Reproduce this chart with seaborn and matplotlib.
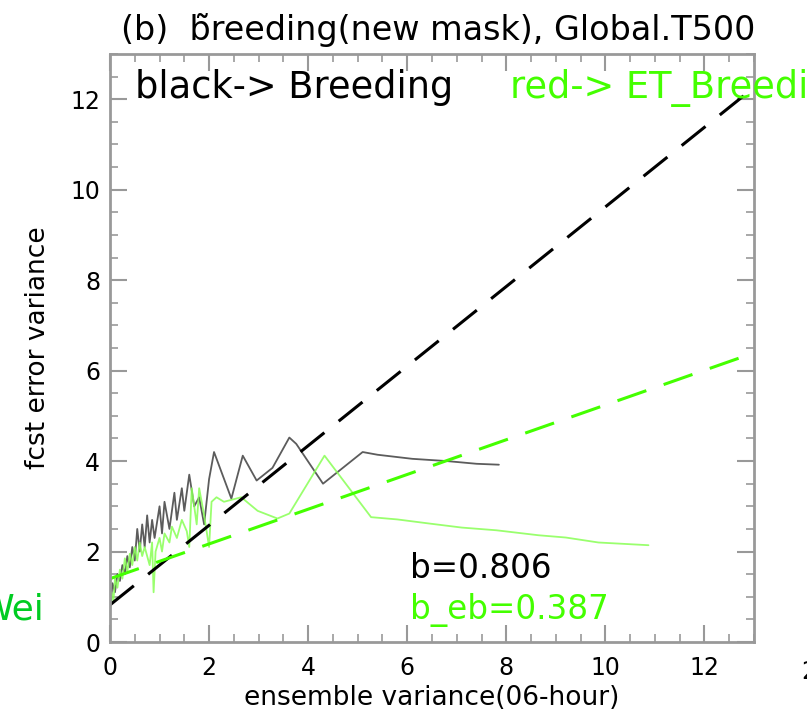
import numpy as np
import pandas as pd
import matplotlib
matplotlib.use("Agg")
import matplotlib.pyplot as plt
import seaborn as sns

# ---- data ----
black_x = [0.02, 0.05, 0.10, 0.15, 0.20, 0.25, 0.30, 0.35, 0.40, 0.45, 0.50, 0.55, 0.60, 0.65,
           0.70, 0.75, 0.80, 0.85, 0.90, 1.00, 1.05, 1.10, 1.20, 1.30, 1.35, 1.45, 1.50, 1.60,
           1.70, 1.80, 1.90, 2.00, 2.10, 2.45, 2.68, 2.96, 3.28, 3.62, 3.76, 4.30, 5.10, 5.40,
           6.10, 6.80, 7.40, 7.85]
black_y = [0.90, 1.30, 1.10, 1.50, 1.35, 1.70, 1.50, 1.90, 1.65, 2.10, 1.80, 2.50, 2.00, 2.60,
           2.10, 2.80, 2.20, 2.70, 2.30, 3.00, 2.40, 3.10, 2.50, 3.30, 2.70, 3.40, 2.90, 3.70,
           3.00, 3.20, 2.60, 3.60, 4.20, 3.17, 4.12, 3.57, 3.85, 4.52, 4.38, 3.50, 4.20, 4.14,
           4.05, 4.00, 3.94, 3.92]

green_x = [0.00, 0.03, 0.07, 0.10, 0.15, 0.20, 0.25, 0.30, 0.35, 0.40, 0.45, 0.50, 0.55, 0.60,
           0.65, 0.70, 0.80, 0.85, 0.88, 0.92, 1.00, 1.05, 1.10, 1.20, 1.25, 1.35, 1.45, 1.55,
           1.60, 1.65, 1.75, 1.80, 1.90, 2.00, 2.05, 2.15, 2.30, 2.65, 2.98, 3.38, 3.62, 4.33,
           5.27, 5.80, 6.44, 7.10, 7.80, 8.65, 9.20, 9.86, 10.87]
green_y = [0.70, 1.10, 0.90, 1.40, 1.20, 1.60, 1.40, 1.85, 1.55, 1.95, 1.70, 2.10, 1.80, 2.20,
           1.90, 2.10, 1.70, 2.20, 1.10, 2.00, 2.30, 2.00, 2.40, 2.20, 2.55, 2.30, 2.70, 2.45,
           2.10, 3.40, 2.60, 3.40, 2.80, 2.10, 3.10, 3.20, 3.10, 3.20, 2.90, 2.73, 2.84, 4.12,
           2.76, 2.71, 2.62, 2.53, 2.47, 2.36, 2.31, 2.20, 2.14]

# regression lines (slope, intercept) as drawn
fit_names = ["Breeding", "ET_Breeding"]
fit_slope = [0.88, 0.384]
fit_intercept = [0.82, 1.40]
fit_range = [0.0, 13.0]

title_text = "(b)  b\u0303reeding(new mask), Global.T500"
xlabel_text = "ensemble variance(06-hour)"
ylabel_text = "fcst error variance"
xticks = [0, 2, 4, 6, 8, 10, 12]
yticks = [0, 2, 4, 6, 8, 10, 12]

# ---- plotting ----
sns.set_theme(style="white")
plt.rcParams['font.family'] = ['DejaVu Sans']
plt.rcParams['text.color'] = 'black'
plt.rcParams['axes.labelcolor'] = 'black'

fig = plt.figure(figsize=(8.07, 7.16), dpi=100)
ax = fig.add_axes([110/807, 1-642/716, (754-110)/807, (642-54)/716])

BLACK = "#000000"
GREEN = "#44ff00"
LGREEN = "#88ff55"

df_b = pd.DataFrame({"x": black_x, "y": black_y})
df_g = pd.DataFrame({"x": green_x, "y": green_y})
sns.lineplot(data=df_b, x="x", y="y", sort=False, estimator=None, ax=ax,
             color="#333333", lw=1.3, alpha=0.8)
sns.lineplot(data=df_g, x="x", y="y", sort=False, estimator=None, ax=ax,
             color=LGREEN, lw=1.3, alpha=0.85)

fx = np.array(fit_range)
for name, s, b, c in zip(fit_names, fit_slope, fit_intercept, [BLACK, GREEN]):
    fy = b + s * fx
    sns.lineplot(x=fx, y=fy, ax=ax, color=c, lw=2.2, dashes=False)
    ax.lines[-1].set_dashes([10, 6])

ax.set_xlim(0, 13)
ax.set_ylim(0, 13)
ax.set_xticks(xticks)
ax.set_yticks(yticks)
ax.set_xticks(np.arange(0, 13.01, 0.5), minor=True)
ax.set_yticks(np.arange(0, 13.01, 0.5), minor=True)
ax.tick_params(which='both', direction='in', top=True, right=True, bottom=True, left=True,
               color='#999999', labelsize=17, labelcolor='black')
ax.tick_params(which='major', length=12, width=1.5, pad=7)
ax.tick_params(which='minor', length=6, width=1.2)
ax.tick_params(axis='x', which='major', pad=10)
for sp in ax.spines.values():
    sp.set_color('#999999')
    sp.set_linewidth(2)

ax.set_xlabel(xlabel_text, fontsize=19, labelpad=4)
ax.set_ylabel(ylabel_text, fontsize=19, labelpad=14)
ax.set_title(title_text, fontsize=24, pad=10, x=0.51, color='black')

fig.text(135/807, 1-88/716, "black-> Breeding", fontsize=26.5,
         color=BLACK, va='center', ha='left')
fig.text(510/807, 1-88/716, "red-> ET_Breeding", fontsize=26.5,
         color=GREEN, va='center', ha='left')
fig.text(410/807, 1-568/716, "b=0.806", fontsize=23.5,
         color=BLACK, va='center', ha='left')
fig.text(410/807, 1-610/716, "b_eb=0.387", fontsize=23.5,
         color=GREEN, va='center', ha='left')
fig.text(45/807, 1-610/716, "Wei", fontsize=26, color="#00cc22", va='center', ha='right')
fig.text(801/807, 1-672/716, "2", fontsize=17, color='black', va='center', ha='left')

fig.savefig("out.png", dpi=100)
